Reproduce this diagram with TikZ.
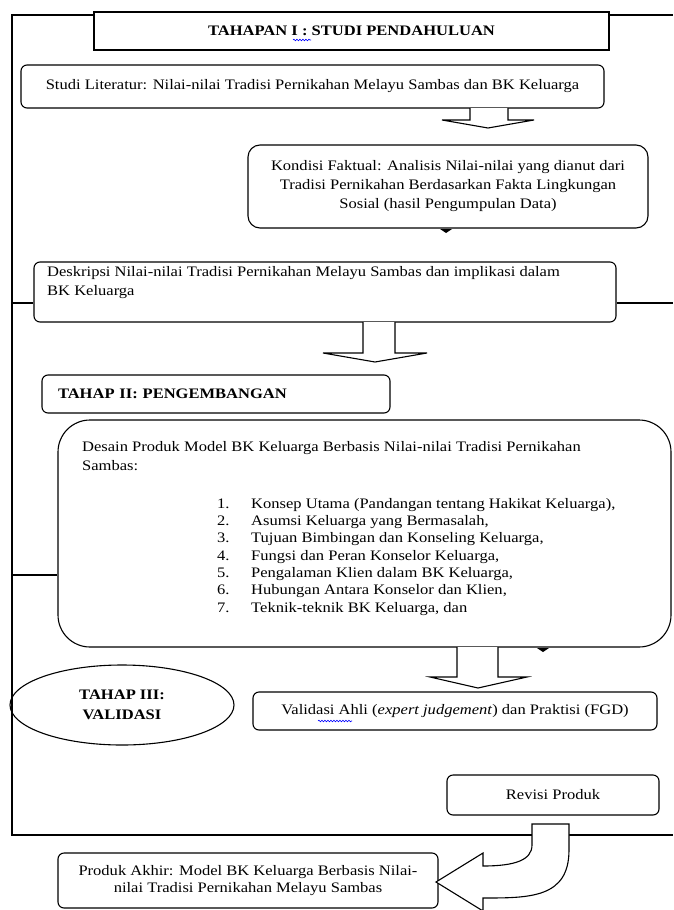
\documentclass[tikz,border=0pt]{standalone}
\usepackage{fontspec}
\setmainfont{Liberation Serif}[FakeStretch=1.14]
\usetikzlibrary{shapes.geometric,decorations.pathmorphing}

\begin{document}
\begin{tikzpicture}[x=1pt,y=-1pt,
	kotak/.style={draw,rounded corners=6pt,line width=1.1pt,fill=white,inner sep=0pt},
	judul/.style={draw,line width=1.2pt,fill=white,inner sep=0pt,font=\bfseries\fontsize{14.5}{20}\selectfont},
	teks/.style={font=\fontsize{14.5}{19}\selectfont},
	panah/.style={draw,line width=1.1pt,fill=white,line join=miter},
	garis/.style={line width=1.1pt},
	ejaan/.style={blue,line width=.6pt,decorate,decoration={snake,amplitude=.8pt,segment length=3pt}}]
		\useasboundingbox (0,0) rectangle (673,910);
		% tahap I
		\node[judul,minimum width=515pt,minimum height=38pt] (tahap1) at (351.5,31) {TAHAPAN I : STUDI PENDAHULUAN};
		\node[kotak,teks,minimum width=583pt,minimum height=43pt] (literatur) at (312.5,86.5) {Studi Literatur: Nilai-nilai Tradisi Pernikahan Melayu Sambas dan BK Keluarga};
		\node[kotak,teks,rounded corners=12pt,minimum width=400pt,minimum height=83pt,align=center] (faktual) at (448,186.5) {Kondisi Faktual: Analisis Nilai-nilai yang dianut dari\\Tradisi Pernikahan Berdasarkan Fakta Lingkungan\\Sosial (hasil Pengumpulan Data)};
		\node[kotak,minimum width=582pt,minimum height=60pt] (deskripsi) at (325,292) {};
		\node[teks,anchor=north west,align=left,inner sep=0pt] (deskripsiteks) at (47,266) {Deskripsi Nilai-nilai Tradisi Pernikahan Melayu Sambas dan implikasi dalam\\BK Keluarga};
		% tahap II
		\node[kotak,font=\bfseries\fontsize{14.5}{19}\selectfont,minimum width=348pt,minimum height=38pt,text width=316pt,align=left] (tahap2) at (216,394) {TAHAP II: PENGEMBANGAN};
		\node[kotak,rounded corners=32pt,minimum width=613pt,minimum height=227pt] (desain) at (364.5,533.5) {};
		\node[teks,anchor=north west,align=left,inner sep=0pt] (desainteks) at (82,441) {Desain Produk Model BK Keluarga Berbasis Nilai-nilai Tradisi Pernikahan\\Sambas:};
		\node[anchor=north west,align=left,inner sep=0pt,font=\fontsize{14.5}{17.3}\selectfont] (butir) at (217,498) {\makebox[34pt][l]{1.}Konsep Utama (Pandangan tentang Hakikat Keluarga),\\
			\makebox[34pt][l]{2.}Asumsi Keluarga yang Bermasalah,\\
			\makebox[34pt][l]{3.}Tujuan Bimbingan dan Konseling Keluarga,\\
			\makebox[34pt][l]{4.}Fungsi dan Peran Konselor Keluarga,\\
			\makebox[34pt][l]{5.}Pengalaman Klien dalam BK Keluarga,\\
			\makebox[34pt][l]{6.}Hubungan Antara Konselor dan Klien,\\
			\makebox[34pt][l]{7.}Teknik-teknik BK Keluarga, dan};
		% tahap III
		\node[draw,ellipse,line width=1.1pt,minimum width=224pt,minimum height=80pt,inner sep=0pt,align=center,font=\bfseries\fontsize{14.5}{20}\selectfont] (tahap3) at (122,705) {TAHAP III:\\VALIDASI};
		\node[kotak,teks,minimum width=404pt,minimum height=38pt] (validasi) at (455,711) {Validasi Ahli (\textit{expert judgement}) dan Praktisi (FGD)};
		\node[kotak,teks,minimum width=212pt,minimum height=40pt] (revisi) at (553,795) {Revisi Produk};
		\node[kotak,align=center,minimum width=380pt,minimum height=55pt,font=\fontsize{14.5}{16.5}\selectfont] (akhir) at (248,880.5) {Produk Akhir: Model BK Keluarga Berbasis Nilai-\\nilai Tradisi Pernikahan Melayu Sambas};
		% bingkai
		\coordinate (ftl) at (12,15);
		\coordinate (ftr) at (673,15);
		\coordinate (fbl) at (12,835);
		\coordinate (fbr) at (673,835);
		\coordinate (kiri1) at (12,303);
		\coordinate (kanan1) at (673,303);
		\coordinate (kiri2) at (12,575);
		\draw[garis] (tahap1.west |- ftl) -- (ftl) -- (fbl) -- (fbr);
		\draw[garis] (tahap1.east |- ftl) -- (ftr);
		\draw[garis] (kiri1) -- (kiri1 -| deskripsi.west);
		\draw[garis] (deskripsi.east |- kanan1) -- (kanan1);
		\draw[garis] (kiri2) -- (kiri2 -| desain.west);
		% panah
		\draw[panah] (470,108) -- (470,120) -- (442,120) -- (488,128) -- (534,120) -- (508,120) -- (508,108);
		\draw[panah] (363,322) -- (363,353) -- (323,353) -- (375,362) -- (427,353) -- (395,353) -- (395,322);
		\draw[panah] (457,647) -- (457,677) -- (430,677) -- (478,688) -- (527,677) -- (498,677) -- (498,647);
		\draw[panah] (532,824) -- (569,824) -- (569,850) .. controls (569,898) and (530,898) .. (483,898) -- (483,911) -- (436,882) -- (483,853) -- (483,866) .. controls (515,866) and (532,860) .. (532,845) -- cycle;
		\fill (440,229) -- (452,229) -- (446,233) -- cycle;
		\fill (537,648) -- (549,648) -- (543,652) -- cycle;
		% garis ejaan
		\draw[ejaan] (293,40) -- (311,40);
		\draw[ejaan] (318,721) -- (352,721);
	    \end{tikzpicture}
\end{document}
